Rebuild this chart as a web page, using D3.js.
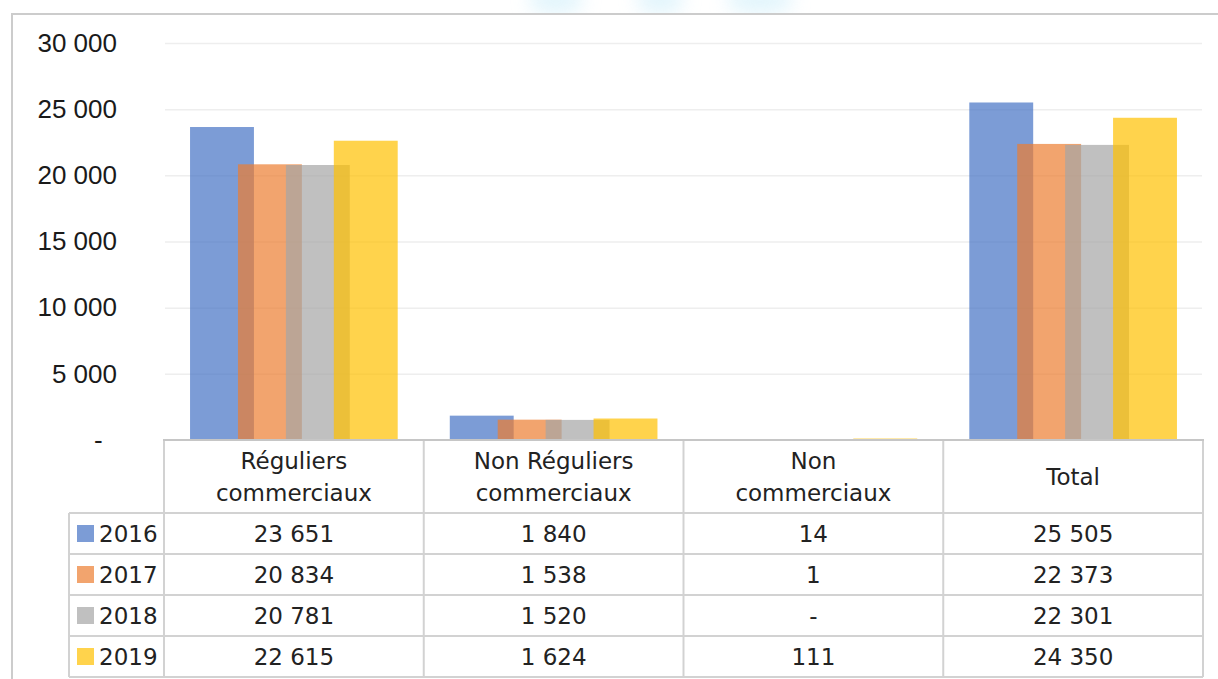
<!DOCTYPE html>
<html>
<head>
<meta charset="utf-8">
<script src="https://cdn.jsdelivr.net/npm/d3@7"></script>
<style>
  body { margin: 0; background: #fff; }
  svg { display: block; }
</style>
</head>
<body>
<svg id="chart" width="1218" height="679"></svg>
<script>
// Data
var categories = ["Réguliers commerciaux", "Non Réguliers commerciaux", "Non commerciaux", "Total"];
var headerLines = [["Réguliers", "commerciaux"], ["Non Réguliers", "commerciaux"], ["Non", "commerciaux"], ["Total"]];
var years = ["2016", "2017", "2018", "2019"];
var values2016 = [23651, 1840, 14, 25505];
var values2017 = [20834, 1538, 1, 22373];
var values2018 = [20781, 1520, 0, 22301];
var values2019 = [22615, 1624, 111, 24350];
var yTicks = [0, 5000, 10000, 15000, 20000, 25000, 30000];
var colors = ["#4472C4", "#ED7D31", "#A5A5A5", "#FFC000"];

var series = [values2016, values2017, values2018, values2019];

var width = 1218, height = 679;
var plotLeft = 164, plotRight = 1203, plotTop = 43, plotBottom = 440;
var headerH = 73, rowH = 41, legendLeft = 69;
var tableFont = "'DejaVu Sans', sans-serif";
var textColor = "#222222";

var loc = d3.formatLocale({ decimal: ",", thousands: "\u00a0", grouping: [3], currency: ["", ""] });
var fmt = loc.format(",");
function fmtVal(v) { return v === 0 ? "-" : fmt(v); }

var svg = d3.select("#chart");

// faint logo behind the top border
var defs = svg.append("defs");
defs.append("filter").attr("id", "blur")
    .attr("x", "-50%").attr("y", "-50%").attr("width", "200%").attr("height", "200%")
    .append("feGaussianBlur").attr("stdDeviation", 9);
defs.append("clipPath").attr("id", "topclip").append("rect")
    .attr("x", 0).attr("y", 0).attr("width", width).attr("height", 13);
var logo = svg.append("g").attr("clip-path", "url(#topclip)");
[[556, 28], [660, 24], [760, 34]].forEach(function(b) {
    logo.append("ellipse").attr("cx", b[0]).attr("cy", 0).attr("rx", b[1]).attr("ry", 14)
        .attr("fill", "#d6f1fb").attr("opacity", 0.7).attr("filter", "url(#blur)");
});

// outer frame
svg.append("path")
    .attr("d", "M12," + height + "V14H" + width)
    .attr("fill", "none")
    .attr("stroke", "#cccccc")
    .attr("stroke-width", 2);

var x = d3.scaleBand().domain(categories).range([plotLeft, plotRight]).paddingInner(0).paddingOuter(0);
var y = d3.scaleLinear().domain([0, 30000]).range([plotBottom, plotTop]);

// gridlines
svg.append("g")
    .attr("transform", "translate(" + (plotLeft + 1) + ",0)")
    .call(d3.axisLeft(y).tickValues(yTicks.slice(1)).tickSize(-(plotRight - plotLeft - 2)).tickFormat(""))
    .call(function(g) {
        g.select(".domain").remove();
        g.selectAll("line").attr("stroke", "#eeeeee").attr("stroke-width", 1.5);
    });

// y axis labels
svg.append("g")
    .attr("transform", "translate(120,0)")
    .call(d3.axisLeft(y).tickValues(yTicks).tickSize(0).tickPadding(3)
        .tickFormat(function(d) { return d === 0 ? "-\u2007" : fmt(d); }))
    .call(function(g) {
        g.select(".domain").remove();
        g.selectAll("text")
            .attr("font-family", "'Liberation Sans', Arial, sans-serif")
            .attr("font-size", 26)
            .attr("fill", "#1a1a1a");
    });

// bars
var band = x.bandwidth();
var barW = band * 0.246;
var step = barW * 0.75;
var groupW = step * (years.length - 1) + barW;

var barG = svg.append("g");
years.forEach(function(yr, si) {
    barG.append("g")
        .selectAll("rect")
        .data(series[si])
        .enter()
        .append("rect")
        .attr("x", function(d, i) { return x(categories[i]) + (band - groupW) / 2 + si * step; })
        .attr("y", function(d) { return y(d); })
        .attr("width", barW)
        .attr("height", function(d) { return plotBottom - y(d); })
        .attr("fill", colors[si])
        .attr("fill-opacity", 0.7);
});

// data table
var tbl = svg.append("g");
var lineColor = "#d2d2d2";
var tableBottom = plotBottom + headerH + rowH * years.length;

function hline(x1, x2, yy, col) {
    tbl.append("line").attr("x1", x1).attr("x2", x2).attr("y1", yy).attr("y2", yy)
        .attr("stroke", col || lineColor).attr("stroke-width", 2);
}
function vline(xx, y1, y2) {
    tbl.append("line").attr("x1", xx).attr("x2", xx).attr("y1", y1).attr("y2", y2)
        .attr("stroke", lineColor).attr("stroke-width", 2);
}

categories.forEach(function(c) { vline(x(c), plotBottom, tableBottom); });
vline(plotRight, plotBottom, tableBottom);
vline(legendLeft, plotBottom + headerH, tableBottom);
hline(legendLeft, plotRight, plotBottom + headerH);
years.forEach(function(yr, r) {
    hline(legendLeft, plotRight, plotBottom + headerH + rowH * (r + 1));
});
hline(plotLeft - 1, plotRight + 1, plotBottom, "#c6c6c6");

// header text
categories.forEach(function(c, i) {
    var lines = headerLines[i];
    var t = tbl.append("text")
        .attr("text-anchor", "middle")
        .attr("font-family", tableFont)
        .attr("font-size", 23)
        .attr("fill", textColor);
    lines.forEach(function(l, k) {
        t.append("tspan")
            .attr("x", x(c) + band / 2)
            .attr("y", plotBottom + 45 - (lines.length - 1) * 16 + k * 32)
            .text(l);
    });
});

// rows
years.forEach(function(yr, r) {
    var cy = plotBottom + headerH + rowH * r + rowH / 2;
    tbl.append("rect")
        .attr("x", 77).attr("y", cy - 8.5)
        .attr("width", 17).attr("height", 17)
        .attr("fill", colors[r]).attr("fill-opacity", 0.7);
    tbl.append("text")
        .attr("x", 99).attr("y", cy + 8.5)
        .attr("font-family", tableFont).attr("font-size", 23).attr("fill", textColor)
        .text(yr);
    series[r].forEach(function(v, i) {
        tbl.append("text")
            .attr("x", x(categories[i]) + band / 2).attr("y", cy + 8.5)
            .attr("text-anchor", "middle")
            .attr("font-family", tableFont).attr("font-size", 23).attr("fill", textColor)
            .text(fmtVal(v));
    });
});
</script>
</body>
</html>
